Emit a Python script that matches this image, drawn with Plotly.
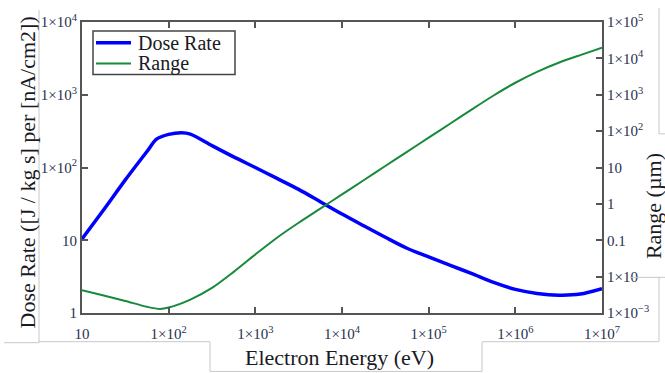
import plotly.graph_objects as go

# ---------------- data ----------------
energy_dose = [10, 17.8, 31.6, 56.2, 72.4, 100, 141, 178, 316, 562, 1000, 1780, 3160,
               5620, 1e4, 1.78e4, 3.16e4, 5.62e4, 1e5, 1.78e5, 3.16e5, 5.62e5, 1e6,
               1.78e6, 3.16e6, 5.62e6, 1e7]
dose_rate = [10.4, 26.3, 67.6, 166, 245, 285, 300, 288, 200, 140, 100, 70.8, 50.1,
             33.9, 22.9, 15.8, 11.0, 7.76, 5.89, 4.52, 3.47, 2.63, 2.11,
             1.86, 1.76, 1.82, 2.16]

energy_range = [10, 17.8, 31.6, 56.2, 79.4, 100, 178, 316, 562, 1000, 1780, 3160, 5620,
                1e4, 1.78e4, 3.16e4, 5.62e4, 1e5, 1.78e5, 3.16e5, 5.62e5, 1e6, 1.78e6,
                3.16e6, 5.62e6, 1e7]
range_um = [0.00423, 0.00302, 0.00214, 0.00148, 0.00129, 0.00141, 0.00234, 0.0049,
            0.0135, 0.0407, 0.1175, 0.302, 0.741, 1.82, 4.47, 11.0, 26.9, 66.1, 162,
            398, 955, 2138, 4266, 7586, 12300, 19500]

series_names = ["Dose Rate", "Range"]
series_colors = ["#0000ff", "#178a3c"]

x_tickvals = [10, 1e2, 1e3, 1e4, 1e5, 1e6, 1e7]
x_ticktext = ["10", "1×10<sup>2</sup>", "1×10<sup>3</sup>", "1×10<sup>4</sup>",
              "1×10<sup>5</sup>", "1×10<sup>6</sup>", "1×10<sup>7</sup>"]
y_tickvals = [1, 10, 1e2, 1e3, 1e4]
y_ticktext = ["1", "10", "1×10<sup>2</sup>", "1×10<sup>3</sup>", "1×10<sup>4</sup>"]
y2_tickvals = [1e-3, 1e-2, 0.1, 1, 10, 1e2, 1e3, 1e4, 1e5]
y2_ticktext = ["1×10<sup>−3</sup>", "1×10", "0.1", "1", "10", "1×10<sup>2</sup>",
               "1×10<sup>3</sup>", "1×10<sup>4</sup>", "1×10<sup>5</sup>"]

# ---------------- layout constants ----------------
W, H = 665, 373
L, R, T, B = 82, 63, 19, 60
PW, PH = W - L - R, H - T - B
FONT = "Liberation Serif"
TICK_COLOR = "#27304e"
AXIS_COLOR = "#555555"
TITLE_COLOR = "#1a1a24"


def px(x):
    return (x - L) / PW


def py(y):
    return (H - B - y) / PH


fig = go.Figure()
fig.add_trace(go.Scatter(x=energy_dose, y=dose_rate, name=series_names[0], mode="lines",
                         line=dict(color=series_colors[0], width=3.5, shape="spline",
                                   smoothing=0.8)))
fig.add_trace(go.Scatter(x=energy_range, y=range_um, name=series_names[1], mode="lines",
                         yaxis="y2",
                         line=dict(color=series_colors[1], width=2, shape="spline",
                                   smoothing=0.8)))

axis_common = dict(showgrid=False, zeroline=False, showline=True, linecolor=AXIS_COLOR,
                   linewidth=2, ticks="inside", ticklen=6, tickwidth=2, tickcolor=AXIS_COLOR,
                   tickfont=dict(family=FONT, size=15, color=TICK_COLOR))

fig.update_layout(
    width=W, height=H,
    margin=dict(l=L, r=R, t=T, b=B),
    paper_bgcolor="white", plot_bgcolor="white",
    font=dict(family=FONT, color=TITLE_COLOR),
    xaxis=dict(type="log", range=[1, 7], tickvals=x_tickvals, ticktext=x_ticktext,
               mirror="ticks", ticklabelstandoff=6, **axis_common),
    yaxis=dict(type="log", range=[0, 4], tickvals=y_tickvals, ticktext=y_ticktext,
               **axis_common),
    yaxis2=dict(type="log", range=[-3, 5], tickvals=y2_tickvals, ticktext=y2_ticktext,
                overlaying="y", side="right", **axis_common),
    showlegend=False,
    annotations=[
        dict(text="Electron Energy (eV)", xref="paper", yref="paper", x=px(339), y=py(358),
             xanchor="center", yanchor="middle", showarrow=False,
             font=dict(family=FONT, size=22, color=TITLE_COLOR)),
        dict(text="Dose Rate ([J / kg s] per [nA/cm2])", xref="paper", yref="paper",
             x=px(27), y=py(171), xanchor="center", yanchor="middle", textangle=-90,
             showarrow=False, font=dict(family=FONT, size=22, color=TITLE_COLOR)),
        dict(text="Range (µm)", xref="paper", yref="paper", x=px(653), y=py(205),
             xanchor="center", yanchor="middle", textangle=-90, showarrow=False,
             font=dict(family=FONT, size=22, color=TITLE_COLOR)),
    ],
)

# legend drawn as a framed box
fig.add_shape(type="rect", xref="paper", yref="paper",
              x0=px(93), y0=py(72), x1=px(235), y1=py(28),
              line=dict(color="#444444", width=1.5), fillcolor="white")
legend_rows = [40, 61]
legend_widths = [3.5, 2]
for name, color, yrow, lw in zip(series_names, series_colors, legend_rows, legend_widths):
    fig.add_shape(type="line", xref="paper", yref="paper",
                  x0=px(96), y0=py(yrow), x1=px(131), y1=py(yrow),
                  line=dict(color=color, width=lw))
    fig.add_annotation(text=name, xref="paper", yref="paper", x=px(136), y=py(yrow),
                       xanchor="left", yanchor="middle", showarrow=False,
                       font=dict(family=FONT, size=20, color=TITLE_COLOR))

# faint frame lines of the surrounding layout
frame_segments = [
    (39, 7, 39, 343), (4, 343, 39, 343), (39, 342, 210, 342),
    (210, 342, 210, 372), (210, 372, 482, 372), (482, 342, 482, 372),
    (482, 342, 659, 342), (659, 5, 659, 132), (659, 132, 665, 132),
    (630, 277, 665, 277), (659, 277, 659, 342),
]
for x0, y0, x1, y1 in frame_segments:
    fig.add_shape(type="line", xref="paper", yref="paper",
                  x0=px(x0), y0=py(y0), x1=px(x1), y1=py(y1),
                  line=dict(color="#c8c8c8", width=1))

fig.write_html("out.html", config={"displayModeBar": False},
               post_script="document.body.style.margin='0';document.body.style.padding='0';")
